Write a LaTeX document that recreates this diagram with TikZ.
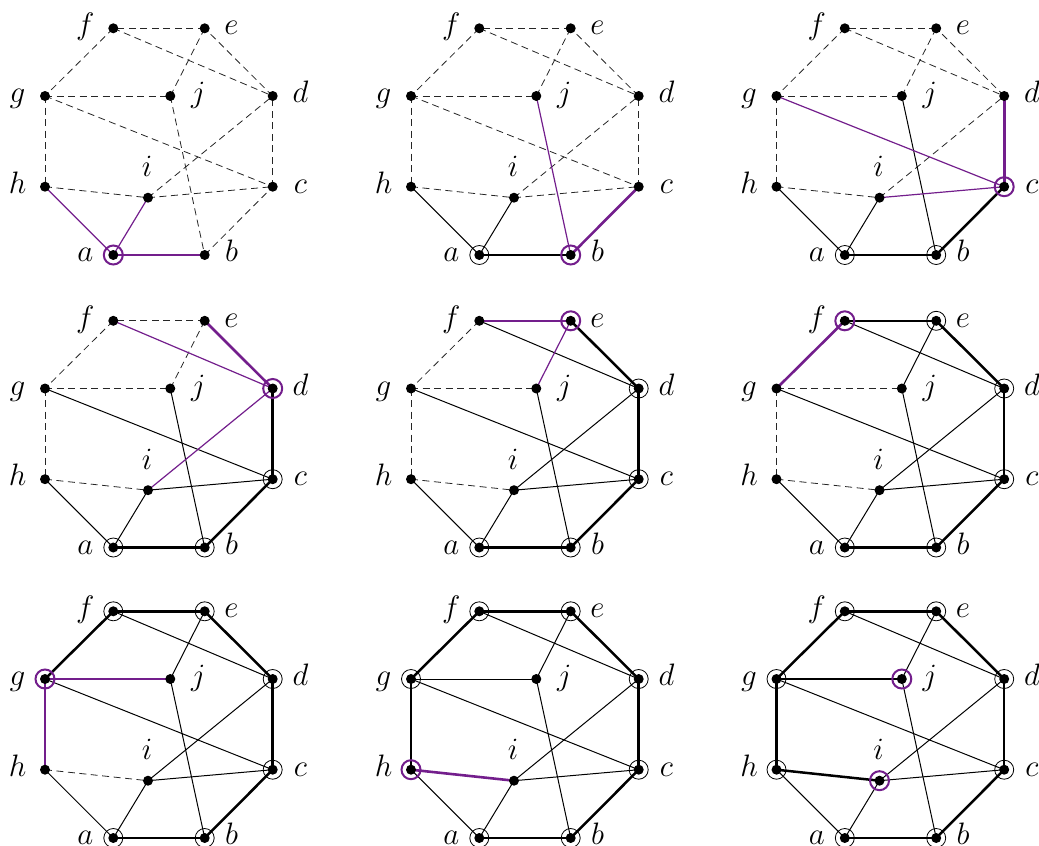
\documentclass[tikz,border=0pt]{standalone}
\usepackage{graphicx}
\definecolor{pur}{RGB}{115,30,140}
\tikzset{
  x=1pt, y=-1pt,
  edash/.style={line width=0.8pt, black!85, dash pattern=on 7pt off 4.5pt},
  ethin/.style={line width=1pt, black},
  ethick/.style={line width=2.5pt, black},
  epur/.style={line width=1.2pt, pur},
  epurq/.style={line width=2.6pt, pur},
  ringk/.style={line width=0.8pt, black},
  ringp/.style={line width=2pt, pur},
  lbl/.style={anchor=base, inner sep=0pt, font=\Huge},
}
\newcommand\lt[1]{\scalebox{1.246}{$#1$}}
\newcommand\mkpanel[3]{%
  \begin{scope}[shift={(#2,#3)}]
    \coordinate (#1a) at (113.3,255);
    \coordinate (#1b) at (204.7,255);
    \coordinate (#1c) at (272.7,186.7);
    \coordinate (#1d) at (272.7,96);
    \coordinate (#1e) at (204.7,28.3);
    \coordinate (#1f) at (113.3,28.3);
    \coordinate (#1g) at (45,96);
    \coordinate (#1h) at (45,186.7);
    \coordinate (#1i) at (148,197.7);
    \coordinate (#1j) at (170.3,96);
    \node[lbl] (#1la) at (85.3,261.5) {\lt{a}};
    \node[lbl] (#1lb) at (231.5,261.5) {\lt{b}};
    \node[lbl] (#1lc) at (300.5,193.2) {\lt{c}};
    \node[lbl] (#1ld) at (300.5,102.5) {\lt{d}};
    \node[lbl] (#1le) at (231.5,34.8) {\lt{e}};
    \node[lbl] (#1lf) at (85.3,34.8) {\lt{f}};
    \node[lbl] (#1lg) at (17.5,102.5) {\lt{g}};
    \node[lbl] (#1lh) at (17.5,193.2) {\lt{h}};
    \node[lbl] (#1li) at (147,176.7) {\lt{i}};
    \node[lbl] (#1lj) at (198.3,102.5) {\lt{j}};
  \end{scope}}
\newcommand\pedges[2]{\foreach \u/\v/\s in {#2} {\draw[\s] (#1\u) -- (#1\v);}}
\newcommand\pdots[1]{\foreach \v in {a,b,c,d,e,f,g,h,i,j} {\fill (#1\v) circle (5);}}
\newcommand\pringk[2]{\foreach \v in {#2} {\draw[ringk] (#1\v) circle (9.5);}}
\newcommand\pringp[2]{\foreach \v in {#2} {\draw[ringp] (#1\v) circle (9.5);}}
\begin{document}
\begin{tikzpicture}
\useasboundingbox (0,0) rectangle (1039,846);
\mkpanel{p1}{0}{0}
\mkpanel{p2}{366}{0}
\mkpanel{p3}{731.5}{0}
\mkpanel{p4}{0}{292.5}
\mkpanel{p5}{366}{292.5}
\mkpanel{p6}{731.5}{292.5}
\mkpanel{p7}{0}{583}
\mkpanel{p8}{366}{583}
\mkpanel{p9}{731.5}{583}
% panel 1
\pedges{p1}{b/c/edash,c/d/edash,d/e/edash,e/f/edash,f/g/edash,g/h/edash,f/d/edash,e/j/edash,g/j/edash,g/c/edash,j/b/edash,i/d/edash,h/i/edash,i/c/edash,a/b/epurq,h/a/epur,a/i/epur}
\pdots{p1}
\pringp{p1}{a}
% panel 2
\pedges{p2}{c/d/edash,d/e/edash,e/f/edash,f/g/edash,g/h/edash,f/d/edash,e/j/edash,g/j/edash,g/c/edash,i/d/edash,h/i/edash,i/c/edash,a/b/ethick,h/a/ethin,a/i/ethin,b/c/epurq,j/b/epur}
\pdots{p2}
\pringk{p2}{a}
\pringp{p2}{b}
% panel 3
\pedges{p3}{d/e/edash,e/f/edash,f/g/edash,g/h/edash,f/d/edash,e/j/edash,g/j/edash,i/d/edash,h/i/edash,a/b/ethick,b/c/ethick,h/a/ethin,a/i/ethin,j/b/ethin,c/d/epurq,g/c/epur,i/c/epur}
\pdots{p3}
\pringk{p3}{a,b}
\pringp{p3}{c}
% panel 4
\pedges{p4}{e/f/edash,f/g/edash,g/h/edash,e/j/edash,g/j/edash,h/i/edash,a/b/ethick,b/c/ethick,c/d/ethick,h/a/ethin,a/i/ethin,j/b/ethin,g/c/ethin,i/c/ethin,d/e/epurq,f/d/epur,i/d/epur}
\pdots{p4}
\pringk{p4}{a,b,c}
\pringp{p4}{d}
% panel 5
\pedges{p5}{f/g/edash,g/h/edash,g/j/edash,h/i/edash,a/b/ethick,b/c/ethick,c/d/ethick,d/e/ethick,h/a/ethin,a/i/ethin,j/b/ethin,g/c/ethin,i/c/ethin,f/d/ethin,i/d/ethin,e/f/epurq,e/j/epur}
\pdots{p5}
\pringk{p5}{a,b,c,d}
\pringp{p5}{e}
% panel 6
\pedges{p6}{g/h/edash,g/j/edash,h/i/edash,a/b/ethick,b/c/ethick,c/d/ethick,d/e/ethick,e/f/ethick,h/a/ethin,a/i/ethin,j/b/ethin,g/c/ethin,i/c/ethin,f/d/ethin,i/d/ethin,e/j/ethin,f/g/epurq}
\pdots{p6}
\pringk{p6}{a,b,c,d,e}
\pringp{p6}{f}
% panel 7
\pedges{p7}{h/i/edash,a/b/ethick,b/c/ethick,c/d/ethick,d/e/ethick,e/f/ethick,f/g/ethick,h/a/ethin,a/i/ethin,j/b/ethin,g/c/ethin,i/c/ethin,f/d/ethin,i/d/ethin,e/j/ethin,g/h/epurq,g/j/epur}
\pdots{p7}
\pringk{p7}{a,b,c,d,e,f}
\pringp{p7}{g}
% panel 8
\pedges{p8}{a/b/ethick,b/c/ethick,c/d/ethick,d/e/ethick,e/f/ethick,f/g/ethick,g/h/ethick,h/a/ethin,a/i/ethin,j/b/ethin,g/c/ethin,i/c/ethin,f/d/ethin,i/d/ethin,e/j/ethin,g/j/ethin,h/i/epurq}
\pdots{p8}
\pringk{p8}{a,b,c,d,e,f,g}
\pringp{p8}{h}
% panel 9
\pedges{p9}{h/a/ethin,a/i/ethin,j/b/ethin,g/c/ethin,i/c/ethin,f/d/ethin,i/d/ethin,e/j/ethin,a/b/ethick,b/c/ethick,c/d/ethick,d/e/ethick,e/f/ethick,f/g/ethick,g/h/ethick,g/j/ethick,h/i/ethick}
\pdots{p9}
\pringk{p9}{a,b,c,d,e,f,g,h}
\pringp{p9}{i,j}
\end{tikzpicture}
\end{document}
